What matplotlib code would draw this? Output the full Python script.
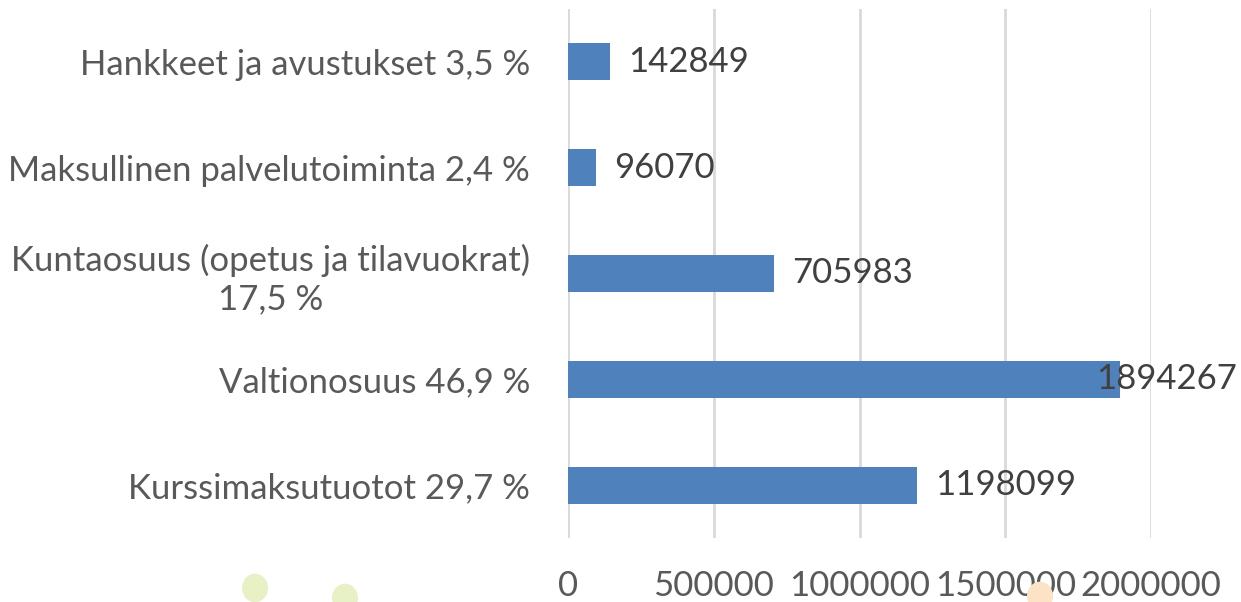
import matplotlib
matplotlib.use("Agg")
import matplotlib.pyplot as plt
from matplotlib.patches import Ellipse

categories = ["Kurssimaksutuotot 29,7 %", "Valtionosuus 46,9 %",
              "Kuntaosuus (opetus ja tilavuokrat)\n17,5 %",
              "Maksullinen palvelutoiminta 2,4 %", "Hankkeet ja avustukset 3,5 %"]
values = [1198099, 1894267, 705983, 96070, 142849]
xticks = [0, 500000, 1000000, 1500000, 2000000]

plt.rcParams['font.family'] = ['Lato', 'DejaVu Sans']
W, H = 1241, 602
FS = 25
fig = plt.figure(figsize=(W/100, H/100), dpi=100)

# decorative background dots
for (cx, cy, r, c) in [(255, 588, 13, '#e8f0c6'), (345, 598, 13, '#e8f0c6'), (1040, 596, 13, '#fde3c6')]:
    fig.patches.append(Ellipse((cx/W, 1-cy/H), 2*r/W, 2*r*1.1/H, transform=fig.transFigure,
                               facecolor=c, edgecolor='none', zorder=0))

ax = fig.add_axes([568/W, 1-538/H, (1151-568)/W, (538-9)/H])
ax.set_facecolor('none')
y = list(range(len(categories)))
ax.barh(y, values, height=0.35, color='#4f81bd', zorder=2)
ax.set_xlim(0, 2000000)
ax.set_ylim(-0.5, len(categories)-0.5)
ax.set_yticks(y)
ax.set_yticklabels(categories, fontsize=FS, color='#595959', ha='right', multialignment='center',
                   linespacing=1.25)
ax.tick_params(axis='y', length=0, pad=38*0.72)
ax.set_xticks(xticks)
ax.set_xticklabels([str(t) for t in xticks], fontsize=FS, color='#595959')
ax.tick_params(axis='x', length=0, pad=32*0.72)
ax.grid(axis='x', color='#d9d9d9', linewidth=2, zorder=1)
for s in ax.spines.values():
    s.set_visible(False)

for yi, v in zip(y, values):
    if v > 0.9 * ax.get_xlim()[1]:
        ax.annotate(str(v), xy=(1.0, yi), xycoords=('axes fraction', 'data'),
                    xytext=(1237-1151, 0), textcoords='offset pixels',
                    ha='right', va='center', fontsize=FS, color='#404040', zorder=3, annotation_clip=False)
    else:
        ax.annotate(str(v), xy=(v, yi), xytext=(18, 0), textcoords='offset pixels',
                    ha='left', va='center', fontsize=FS, color='#404040', zorder=3)

fig.savefig('out.png', dpi=100)
